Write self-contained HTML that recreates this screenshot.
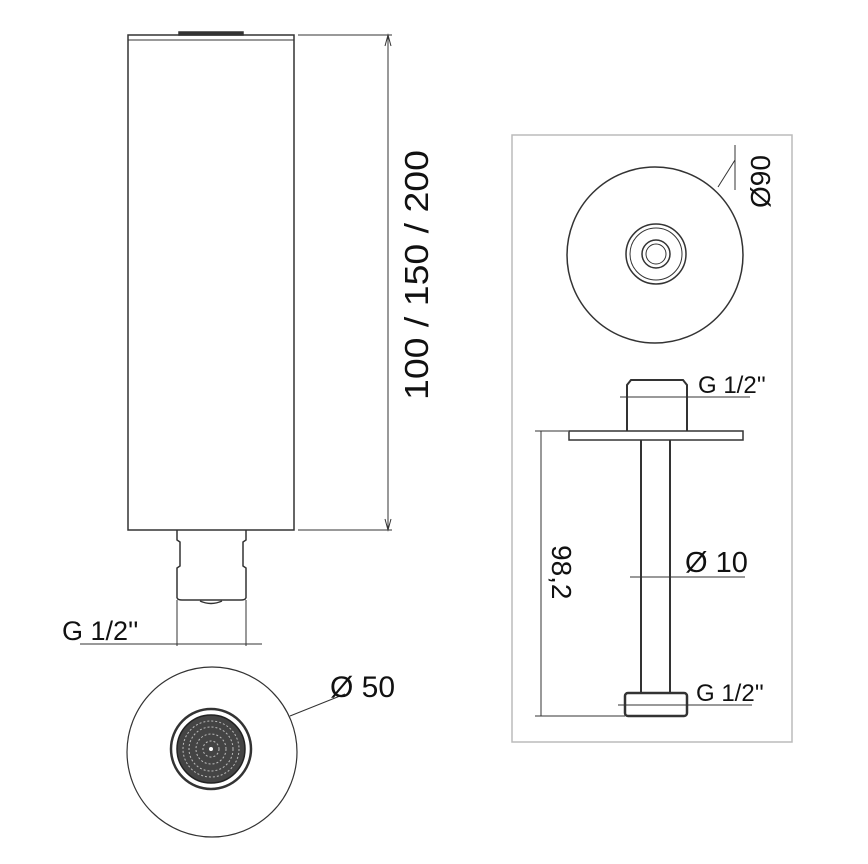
<!DOCTYPE html>
<html><head><style>body{margin:0;background:#fff}svg{display:block}text{font-family:"Liberation Sans",sans-serif;fill:#111}</style></head><body>
<svg width="868" height="864" viewBox="0 0 868 864" xmlns="http://www.w3.org/2000/svg" fill="none" stroke="#333" stroke-width="1.5">
<!-- main body -->
<rect x="128" y="35" width="166" height="495"/>
<line x1="128" y1="40" x2="294" y2="40" stroke-width="1"/>
<rect x="179" y="32" width="64" height="3" fill="#333"/>
<line x1="298" y1="35" x2="392" y2="35" stroke-width="1"/>
<line x1="298" y1="530" x2="392" y2="530" stroke-width="1"/>
<line x1="388" y1="35" x2="388" y2="530" stroke-width="1"/>
<path d="M385 46 L388 35 L391 46 M385 519 L388 530 L391 519" stroke-width="1"/>
<text x="0" y="0" font-size="33" textLength="250" lengthAdjust="spacingAndGlyphs" transform="translate(428,400) rotate(-90)" stroke="none">100 / 150 / 200</text>
<!-- neck -->
<path d="M177 530 V540 L180 542 V566 L177 568 V598 M246 530 V540 L243 542 V566 L246 568 V598"/>
<path d="M177 598 Q178 600 182 600 H241 Q245 600 246 598"/>
<path d="M200 601 Q211 606 222 601" stroke-width="1.5"/>
<line x1="177" y1="600" x2="177" y2="646" stroke-width="1"/>
<line x1="246" y1="600" x2="246" y2="646" stroke-width="1"/>
<line x1="80" y1="644" x2="262" y2="644" stroke-width="1"/>
<text x="62" y="640" font-size="27" stroke="none">G 1/2''</text>
<!-- bottom circle -->
<circle cx="212" cy="752" r="85" stroke-width="1.2"/>
<circle cx="211" cy="749" r="40" stroke-width="2.5"/>
<circle cx="211" cy="749" r="34" fill="#444" stroke="#222"/>
<circle cx="211" cy="749" r="28" stroke="#bbb" stroke-dasharray="2 2" stroke-width="1"/>
<circle cx="211" cy="749" r="22" stroke="#bbb" stroke-dasharray="2 2" stroke-width="1"/>
<circle cx="211" cy="749" r="15" stroke="#bbb" stroke-dasharray="2 2" stroke-width="1"/>
<circle cx="211" cy="749" r="8" stroke="#bbb" stroke-dasharray="2 2" stroke-width="1"/>
<circle cx="211" cy="749" r="2" fill="#fff" stroke="none"/>
<line x1="290" y1="716" x2="345" y2="694" stroke-width="1"/>
<text x="330" y="697" font-size="30" stroke="none">Ø 50</text>
<!-- right box -->
<rect x="512" y="135" width="280" height="607" stroke="#bbb" stroke-width="1.5"/>
<circle cx="655" cy="255" r="88" stroke-width="1.5"/>
<circle cx="656" cy="254" r="30" stroke-width="1.5"/>
<circle cx="656" cy="254" r="26" stroke-width="1"/>
<circle cx="656" cy="254" r="14" stroke-width="1.5"/>
<circle cx="656" cy="254" r="10" stroke-width="1"/>
<line x1="718" y1="187" x2="735" y2="160" stroke-width="1"/>
<line x1="735" y1="145" x2="735" y2="190" stroke-width="1"/>
<text x="0" y="0" font-size="28" transform="translate(770,208) rotate(-90)" stroke="none">Ø90</text>
<!-- fitting -->
<path d="M627 431 V385 L631 380 H683 L687 385 V431" stroke-width="2"/>
<rect x="569" y="431" width="174" height="9" stroke-width="1.5"/>
<line x1="620" y1="397" x2="750" y2="397" stroke-width="1"/>
<text x="698" y="393" font-size="24" stroke="none">G 1/2''</text>
<line x1="641" y1="440" x2="641" y2="692" stroke-width="2"/>
<line x1="670" y1="440" x2="670" y2="692" stroke-width="2"/>
<rect x="625" y="693" width="62" height="23" rx="3" stroke-width="2.5"/>
<line x1="618" y1="705" x2="752" y2="705" stroke-width="1"/>
<text x="696" y="701" font-size="24" stroke="none">G 1/2''</text>
<line x1="630" y1="577" x2="745" y2="577" stroke-width="1"/>
<text x="685" y="572" font-size="29" stroke="none">Ø 10</text>
<line x1="541" y1="431" x2="541" y2="716" stroke-width="1"/>
<line x1="535" y1="431" x2="568" y2="431" stroke-width="1"/>
<line x1="535" y1="716" x2="625" y2="716" stroke-width="1"/>
<text x="0" y="0" font-size="28" transform="translate(552,545) rotate(90)" stroke="none">98,2</text>
</svg>
</body></html>
